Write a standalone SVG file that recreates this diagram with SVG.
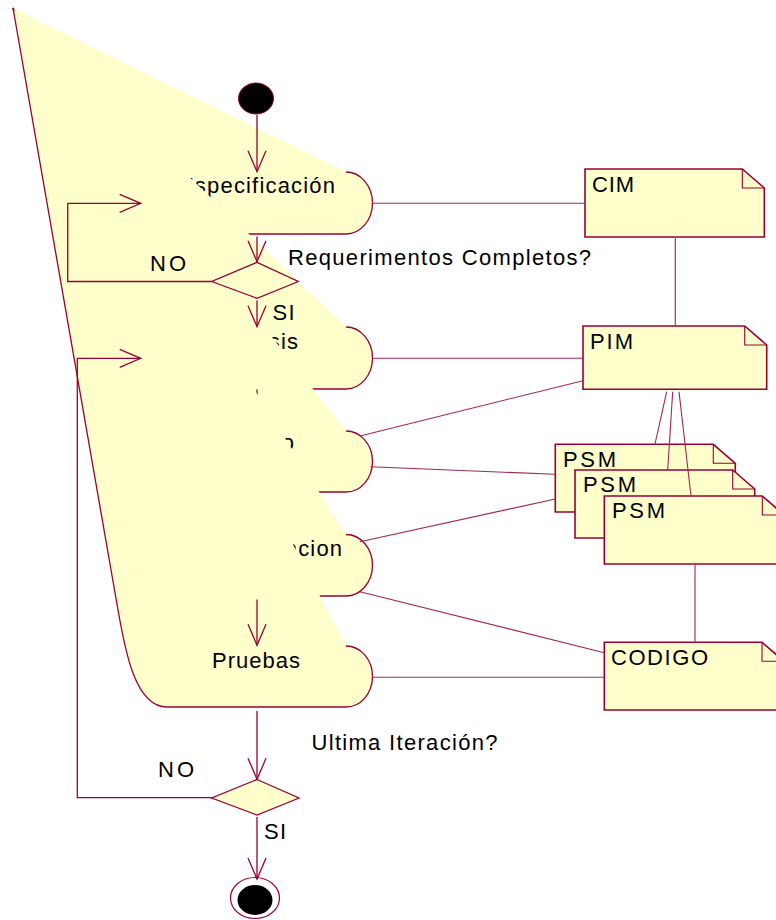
<svg xmlns="http://www.w3.org/2000/svg" width="776" height="920" viewBox="0 0 776 920">
  <style>
    .fill { fill: #FFFFCC; stroke: none; }
    .edge { fill: none; stroke: #990033; stroke-width: 1.3; }
    .flow { fill: none; stroke: #990033; stroke-width: 1.3; }
    .link { fill: none; stroke: #A3264F; stroke-width: 1.1; }
    .note { fill: #FFFFCC; stroke: #990033; stroke-width: 1.6; }
    .fold { fill: none; stroke: #990033; stroke-width: 1.1; }
    .dec { fill: #FFFFCC; stroke: #990033; stroke-width: 1.3; }
    text { font-family: "Liberation Sans", Arial, sans-serif; font-size: 22px; fill: #000; }
  </style>
  <defs>
    <marker id="arr" markerWidth="24" markerHeight="22" viewBox="0 0 24 22" refX="22" refY="10" orient="auto" markerUnits="userSpaceOnUse">
      <path d="M1,1 L22,10 L1,19" fill="none" stroke="#990033" stroke-width="1.3"/>
    </marker>
  </defs>

  <rect width="776" height="920" fill="#FFFFFF"/>

  <!-- start node -->
  <g id="start">
    <ellipse cx="256" cy="98.5" rx="17.5" ry="15.5" fill="#000" stroke="#990033" stroke-width="1"/>
  </g>

  <!-- activities, painted in order; each shares the anchor point at 13,8 -->
  <g id="act-especificacion">
    <path class="fill" d="M13,8 L346,172 A26.5,31 0 0 1 346,234 L167,234 Z"/>
    <path class="edge" d="M346,172 A26.5,31 0 0 1 346,234 L167,234 L13,8"/>
    <text x="179" y="193" textLength="156" lengthAdjust="spacing">Especificación</text>
  </g>

  <g id="act-analisis">
    <path class="fill" d="M13,8 L346,327 A26.5,31 0 0 1 346,389 L167,389 Z"/>
    <path class="edge" d="M346,327 A26.5,31 0 0 1 346,389 L167,389 L13,8"/>
    <text x="214" y="349" textLength="84" lengthAdjust="spacing">Analisis</text>
  </g>

  <g id="act-diseno">
    <path class="fill" d="M13,8 L346,431 A26.5,30.5 0 0 1 346,492 L167,492 Z"/>
    <path class="edge" d="M346,431 A26.5,30.5 0 0 1 346,492 L167,492 L13,8"/>
    <text x="220" y="450" textLength="74" lengthAdjust="spacing">Diseño</text>
  </g>

  <!-- transitions that sit beneath the later activities -->
  <g id="connectors-under">
    <path class="flow" d="M257,389.5 V430.5" marker-end="url(#arr)"/>
    <path class="flow" d="M257,492.5 V534" marker-end="url(#arr)"/>
  </g>

  <g id="act-implementacion">
    <path class="fill" d="M13,8 L346,534.5 A26.5,30.75 0 0 1 346,596 L167,596 Z"/>
    <path class="edge" d="M346,534.5 A26.5,30.75 0 0 1 346,596 L167,596 L13,8"/>
    <text x="172" y="556" textLength="170" lengthAdjust="spacing">Implementacion</text>
  </g>

  <g id="act-pruebas">
    <path class="fill" d="M13,8 L346,646 A26.5,30.5 0 0 1 346,707 L167,707 C135,707 125,650 118,610 Z"/>
    <path class="edge" d="M346,646 A26.5,30.5 0 0 1 346,707 L167,707 C135,707 125,650 118,610 L13,8"/>
    <text x="212" y="667.5" textLength="88" lengthAdjust="spacing">Pruebas</text>
  </g>

  <!-- decisions -->
  <g id="dec-requerimientos">
    <path class="dec" d="M257,262.3 L298.3,281.5 L257,298.3 L211.7,281.5 Z"/>
  </g>
  <g id="dec-iteracion">
    <path class="dec" d="M257,779.5 L299,798 L257,815 L211.7,798 Z"/>
  </g>

  <!-- end node -->
  <g id="end">
    <ellipse cx="255" cy="898" rx="24.5" ry="20.5" fill="#FFFFFF" stroke="#990033" stroke-width="1.2"/>
    <ellipse cx="255" cy="900" rx="17.5" ry="15" fill="#000"/>
  </g>

  <!-- model artefacts -->
  <g id="note-cim">
    <path class="note" d="M585,169 H742.3 L764.3,188 V237 H585 Z"/>
    <path class="fold" d="M742.3,169 V188 H764.3"/>
    <text x="592" y="192" textLength="42" lengthAdjust="spacing">CIM</text>
  </g>
  <g id="note-pim">
    <path class="note" d="M583,326 H744.7 L766.7,345 V389.3 H583 Z"/>
    <path class="fold" d="M744.7,326 V345 H766.7"/>
    <text x="590" y="349" textLength="43" lengthAdjust="spacing">PIM</text>
  </g>
  <g id="note-psm-1">
    <path class="note" d="M555.3,444.3 H713.3 L735.3,463.3 V512 H555.3 Z"/>
    <path class="fold" d="M713.3,444.3 V463.3 H735.3"/>
    <text x="563" y="467" textLength="53" lengthAdjust="spacing">PSM</text>
  </g>
  <g id="note-psm-2">
    <path class="note" d="M575,470 H732.7 L754.7,489 V538 H575 Z"/>
    <path class="fold" d="M732.7,470 V489 H754.7"/>
    <text x="583" y="492" textLength="53" lengthAdjust="spacing">PSM</text>
  </g>
  <g id="note-psm-3">
    <path class="note" d="M604.3,496 H762.3 L784.3,515 V564 H604.3 Z"/>
    <path class="fold" d="M762.3,496 V515 H784.3"/>
    <text x="612" y="518" textLength="53" lengthAdjust="spacing">PSM</text>
  </g>
  <g id="note-codigo">
    <path class="note" d="M604.3,642.3 H762 L784,661.3 V710 H604.3 Z"/>
    <path class="fold" d="M762,642.3 V661.3 H784"/>
    <text x="611" y="665" textLength="97" lengthAdjust="spacing">CODIGO</text>
  </g>

  <!-- transitions and artefact links -->
  <g id="connectors">
    <path class="flow" d="M257,115 V171.7" marker-end="url(#arr)"/>
    <path class="flow" d="M257,236.5 V261.7" marker-end="url(#arr)"/>
    <path class="flow" d="M257,300.5 V326.7" marker-end="url(#arr)"/>
    <path class="flow" d="M211.7,281.5 H67.7 V203.3 H140.7" marker-end="url(#arr)"/>
    <path class="flow" d="M257,599.5 V645.3" marker-end="url(#arr)"/>
    <path class="flow" d="M257,711 V779.3" marker-end="url(#arr)"/>
    <path class="flow" d="M257,817 V879" marker-end="url(#arr)"/>
    <path class="flow" d="M211.7,797.7 H77.3 V358.3 H140.7" marker-end="url(#arr)"/>

    <path class="link" d="M372.5,203.3 H585"/>
    <path class="link" d="M675.3,238 V326"/>
    <path class="link" d="M372.5,358.3 H583"/>
    <path class="link" d="M583,380.7 L360,436"/>
    <path class="link" d="M666.7,391.7 L655,444"/>
    <path class="link" d="M672.7,391.7 L667.7,470"/>
    <path class="link" d="M679,391.7 L691,496"/>
    <path class="link" d="M370.5,466.7 L555.3,474.3"/>
    <path class="link" d="M360,541.7 L555.3,499"/>
    <path class="link" d="M360,591.7 L604.3,652.7"/>
    <path class="link" d="M372.5,677.3 H604.3"/>
    <path class="link" d="M695,565 V642.3"/>
  </g>

  <!-- guard labels -->
  <g id="labels">
    <text x="288" y="265" textLength="303" lengthAdjust="spacing">Requerimentos Completos?</text>
    <text x="150" y="271" textLength="36" lengthAdjust="spacing">NO</text>
    <text x="272.5" y="320" textLength="22" lengthAdjust="spacing">SI</text>
    <text x="311.5" y="750" textLength="186" lengthAdjust="spacing">Ultima Iteración?</text>
    <text x="158" y="777" textLength="36" lengthAdjust="spacing">NO</text>
    <text x="264" y="839" textLength="22" lengthAdjust="spacing">SI</text>
  </g>
</svg>
